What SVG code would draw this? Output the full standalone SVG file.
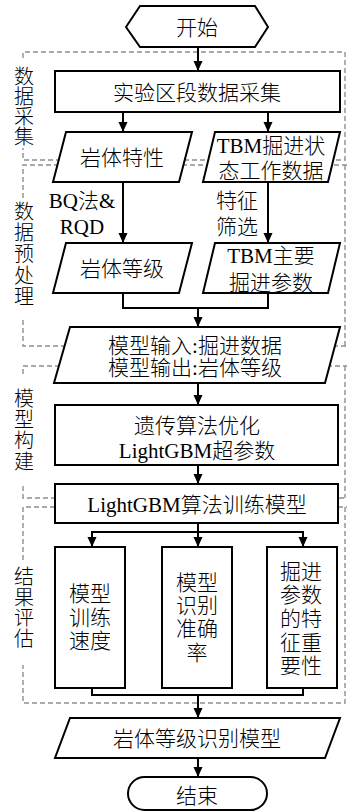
<svg xmlns="http://www.w3.org/2000/svg" width="347" height="812" viewBox="0 0 347 812">
<defs>
<marker id="ah" markerUnits="userSpaceOnUse" markerWidth="10" markerHeight="10" refX="10" refY="5" orient="auto">
<path d="M0,0.5 L10,5 L0,9.5 z" fill="#000"/>
</marker>
<style>
.sh{fill:#fff;stroke:#000;stroke-width:2}
.t{font-family:"Liberation Serif","Noto Sans CJK SC",serif;font-size:21px;font-weight:300;fill:#000;text-anchor:middle}
.lb{font-family:"Liberation Serif","Noto Sans CJK SC",serif;font-size:20px;font-weight:300;fill:#000;text-anchor:middle}
.ds{fill:none;stroke:#8f8f8f;stroke-width:1.4;stroke-dasharray:5 3}
.cn{fill:none;stroke:#000;stroke-width:2}
.ar{fill:none;stroke:#000;stroke-width:2;marker-end:url(#ah)}
</style>
</defs>
<g id="stages">
<path class="ds" d="M23,58 V52 H345 V160 H23 V148"/>
<path class="ds" d="M23,198 V165 H347 M345,165 V346 M23,320 V346 H347"/>
<path class="ds" d="M23,374 V366 H347 M345,366 V498 M23,486 V498 H347"/>
<path class="ds" d="M23,560 V507 H347 M345,507 V703 H23 V665"/>
<text class="lb" x="24" y="84">数</text>
<text class="lb" x="24" y="104">据</text>
<text class="lb" x="24" y="124">采</text>
<text class="lb" x="24" y="144">集</text>
<text class="lb" x="24" y="219">数</text>
<text class="lb" x="24" y="240">据</text>
<text class="lb" x="24" y="261">预</text>
<text class="lb" x="24" y="283">处</text>
<text class="lb" x="24" y="304">理</text>
<text class="lb" x="24" y="406">模</text>
<text class="lb" x="24" y="427">型</text>
<text class="lb" x="24" y="448">构</text>
<text class="lb" x="24" y="469">建</text>
<text class="lb" x="24" y="584">结</text>
<text class="lb" x="24" y="605">果</text>
<text class="lb" x="24" y="625">评</text>
<text class="lb" x="24" y="646">估</text>
</g>
<g id="connectors">
<line class="ar" x1="198" y1="47" x2="198" y2="71"/>
<line class="ar" x1="123" y1="112" x2="123" y2="132"/>
<line class="ar" x1="268" y1="112" x2="268" y2="132"/>
<line class="ar" x1="123" y1="182" x2="123" y2="243"/>
<line class="ar" x1="268" y1="182" x2="268" y2="243"/>
<polyline class="cn" points="123,293 123,308 268,308 268,293"/>
<line class="ar" x1="198" y1="308" x2="198" y2="327"/>
<line class="ar" x1="198" y1="383" x2="198" y2="405"/>
<line class="ar" x1="198" y1="465" x2="198" y2="484"/>
<line class="cn" x1="198" y1="523" x2="198" y2="532"/>
<polyline class="ar" points="92,547 92,532 303,532 303,547"/>
<line class="ar" x1="92" y1="532" x2="92" y2="547"/>
<line class="ar" x1="198" y1="532" x2="198" y2="547"/>
<polyline class="cn" points="92,688 92,695 303,695 303,688"/>
<line class="ar" x1="198" y1="695" x2="198" y2="718"/>
<line class="ar" x1="198" y1="758" x2="198" y2="777"/>
<text class="t" x="82" y="208">BQ法&amp;</text>
<text class="t" x="82" y="234">RQD</text>
<text class="t" x="237" y="208">特征</text>
<text class="t" x="237" y="234">筛选</text>
</g>
<g id="start">
<polygon class="sh" points="126,27 140,6 255,6 268,27 255,47 140,47"/>
<text class="t" x="197" y="34.5">开始</text>
</g>
<g id="collect">
<rect class="sh" x="55" y="71" width="285" height="41"/>
<text class="t" x="197" y="99.5">实验区段数据采集</text>
</g>
<g id="rock-prop">
<polygon class="sh" points="66,132 192,132 179,182 53,182"/>
<text class="t" x="122" y="164.5">岩体特性</text>
</g>
<g id="tbm-data">
<polygon class="sh" points="215,132 340,132 328,182 203,182"/>
<text class="t" x="271" y="152.5">TBM掘进状</text>
<text class="t" x="271" y="177.5">态工作数据</text>
</g>
<g id="rock-grade">
<polygon class="sh" points="66,243 192,243 179,293 53,293"/>
<text class="t" x="122" y="275.5">岩体等级</text>
</g>
<g id="tbm-params">
<polygon class="sh" points="215,243 340,243 328,293 203,293"/>
<text class="t" x="271" y="262.5">TBM主要</text>
<text class="t" x="271" y="289.5">掘进参数</text>
</g>
<g id="model-io">
<polygon class="sh" points="70,327 340,327 325,383 54,383"/>
<text class="t" x="195" y="352.5">模型输入:掘进数据</text>
<text class="t" x="195" y="374.5">模型输出:岩体等级</text>
</g>
<g id="ga">
<rect class="sh" x="55" y="405" width="283" height="60"/>
<text class="t" x="197" y="432.5">遗传算法优化</text>
<text class="t" x="197" y="457.5">LightGBM超参数</text>
</g>
<g id="train">
<rect class="sh" x="55" y="484" width="283" height="39"/>
<text class="t" x="197" y="511.5">LightGBM算法训练模型</text>
</g>
<g id="speed">
<rect class="sh" x="55" y="547" width="70" height="141"/>
<text class="t" x="90" y="601">模型</text>
<text class="t" x="90" y="625">训练</text>
<text class="t" x="90" y="648">速度</text>
</g>
<g id="accuracy">
<rect class="sh" x="162" y="547" width="70" height="141"/>
<text class="t" x="197" y="589.5">模型</text>
<text class="t" x="197" y="612.5">识别</text>
<text class="t" x="197" y="635.5">准确</text>
<text class="t" x="197" y="659.5">率</text>
</g>
<g id="importance">
<rect class="sh" x="267" y="547" width="70" height="141"/>
<text class="t" x="301" y="578.5">掘进</text>
<text class="t" x="301" y="601.5">参数</text>
<text class="t" x="301" y="625.5">的特</text>
<text class="t" x="301" y="649.5">征重</text>
<text class="t" x="301" y="672.5">要性</text>
</g>
<g id="result">
<polygon class="sh" points="70,718 340,718 325,758 55,758"/>
<text class="t" x="197" y="745.5">岩体等级识别模型</text>
</g>
<g id="end">
<rect class="sh" x="128" y="777" width="139" height="33" rx="16.5"/>
<text class="t" x="197" y="802.5">结束</text>
</g>
</svg>
